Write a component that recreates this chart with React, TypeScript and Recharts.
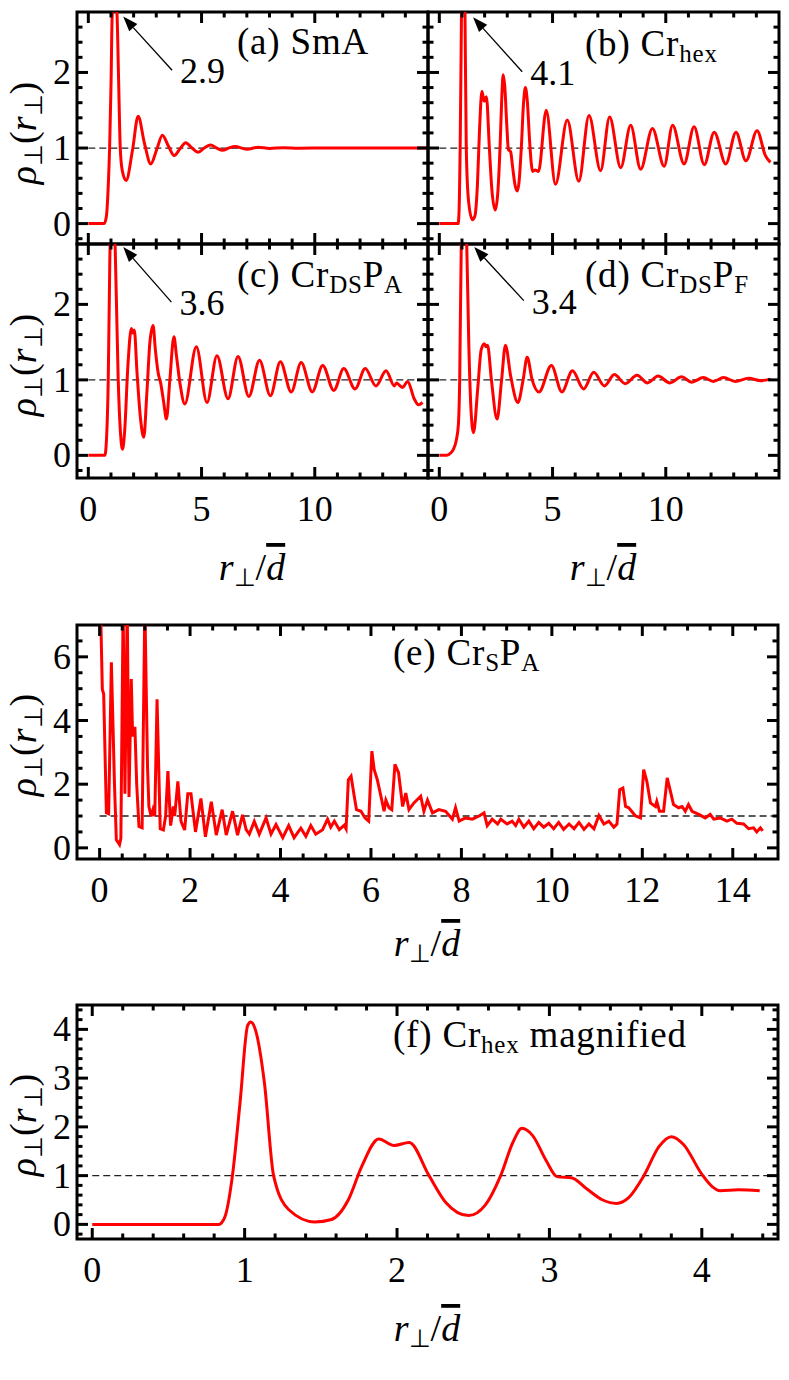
import React from 'react';
import { ComposedChart, Line, Scatter, XAxis, YAxis, ReferenceLine, ReferenceArea } from 'recharts';

type Pt = [number, number];

// rho_perp(r_perp), [r/d, rho]
const smaPoints: Pt[] = [
  [0, 0], [0.35, 0], [0.7, 0], [0.8, 0.1], [0.88, 0.5], [0.94, 1.0], [1.0, 1.8], [1.06, 2.8],
  [1.16, 2.9], [1.26, 2.8], [1.33, 2.0], [1.41, 1.0], [1.5, 0.7], [1.67, 0.57], [1.95, 0.97],
  [2.2, 1.42], [2.48, 1.06], [2.76, 0.79], [3.02, 0.98], [3.27, 1.17], [3.53, 1.03], [3.79, 0.9],
  [4.05, 0.99], [4.3, 1.07], [4.58, 1.0], [4.85, 0.945], [5.12, 1.0], [5.4, 1.04], [5.67, 1.0],
  [5.93, 0.97], [6.2, 1.0], [6.47, 1.02], [7.0, 0.985], [7.5, 1.01], [8.0, 0.995], [8.6, 1.004],
  [9.3, 0.998], [10.5, 1.0], [12, 1.0], [13.5, 1.0], [15, 1.0],
];

const crHexPoints: Pt[] = [
  [0, 0], [0.5, 0], [0.83, 0], [0.87, 0.15], [0.92, 1.0], [0.97, 2.5], [1.02, 4.08], [1.04, 4.15],
  [1.07, 4.0], [1.13, 2.9], [1.19, 1.0], [1.29, 0.3], [1.46, 0.05], [1.57, 0.1], [1.68, 0.5],
  [1.77, 1.2], [1.88, 1.75], [1.98, 1.62], [2.08, 1.68], [2.21, 1.0], [2.32, 0.45], [2.47, 0.18],
  [2.58, 0.4], [2.68, 1.0], [2.76, 1.68], [2.82, 1.97], [2.89, 1.82], [2.98, 1.3], [3.05, 0.98],
  [3.15, 0.95], [3.24, 0.74], [3.35, 0.5], [3.44, 0.43], [3.52, 0.55], [3.62, 1.0], [3.72, 1.6],
  [3.8, 1.8], [3.88, 1.64], [4.0, 1.03], [4.07, 0.77], [4.12, 0.69], [4.24, 0.71], [4.38, 0.69],
  [4.72, 1.5], [5.13, 0.52], [5.65, 1.37], [6.16, 0.56], [6.61, 1.43], [7.12, 0.7], [7.52, 1.41],
  [8.01, 0.74], [8.45, 1.3], [8.89, 0.72], [9.41, 1.26], [9.93, 0.76], [10.3, 1.3], [10.81, 0.79],
  [11.25, 1.28], [11.7, 0.78], [12.14, 1.21], [12.65, 0.79], [13.1, 1.21], [13.54, 0.83],
  [14.03, 1.23], [14.4, 0.9], [14.62, 0.81],
];

const crDsPaPoints: Pt[] = [
  [0, 0], [0.4, 0], [0.73, 0], [0.8, 0.2], [0.88, 1.0], [0.95, 2.6], [1.07, 3.6], [1.19, 2.7],
  [1.32, 1.0], [1.42, 0.3], [1.51, 0.08], [1.6, 0.3], [1.75, 1.2], [1.9, 1.68], [1.96, 1.62],
  [2.03, 1.66], [2.15, 1.1], [2.3, 0.5], [2.45, 0.24], [2.58, 0.8], [2.72, 1.5], [2.86, 1.72],
  [2.96, 1.4], [3.08, 1.1], [3.2, 0.95], [3.33, 0.7], [3.45, 0.48], [3.6, 1.0], [3.78, 1.57],
  [3.9, 1.3], [4.05, 0.95], [4.26, 0.68], [4.77, 1.44], [5.24, 0.7], [5.68, 1.32], [6.17, 0.75],
  [6.61, 1.31], [7.09, 0.78], [7.56, 1.26], [8.04, 0.79], [8.48, 1.24], [8.96, 0.84], [9.4, 1.23],
  [9.89, 0.84], [10.35, 1.19], [10.84, 0.86], [11.28, 1.15], [11.78, 0.88], [12.23, 1.15],
  [12.7, 0.92], [13.15, 1.12], [13.51, 0.92], [13.62, 0.96], [13.73, 0.93], [13.88, 0.9],
  [14.1, 0.98], [14.39, 0.75], [14.58, 0.67], [14.76, 0.7],
];

const crDsPfPoints: Pt[] = [
  [0, 0], [0.33, 0], [0.5, 0.03], [0.62, 0.08], [0.75, 0.2], [0.84, 0.4], [0.9, 1.0], [0.97, 2.8],
  [1.09, 3.4], [1.21, 2.8], [1.3, 1.5], [1.4, 0.6], [1.51, 0.3], [1.7, 0.9], [1.85, 1.4],
  [1.99, 1.48], [2.06, 1.44], [2.13, 1.46], [2.3, 1.0], [2.55, 0.48], [2.75, 1.0], [2.92, 1.46],
  [3.15, 1.05], [3.47, 0.7], [3.7, 1.0], [3.88, 1.3], [4.1, 1.0], [4.4, 0.84], [4.95, 1.19],
  [5.41, 0.84], [5.88, 1.12], [6.37, 0.88], [6.82, 1.1], [7.29, 0.92], [7.73, 1.07], [8.21, 0.95],
  [8.73, 1.06], [9.19, 0.96], [9.66, 1.05], [10.18, 0.96], [10.7, 1.04], [11.14, 0.97],
  [11.66, 1.03], [12.1, 0.98], [12.55, 1.03], [13.07, 0.98], [13.66, 1.02], [14.2, 0.99],
  [14.62, 1.01],
];

const crSPaPoints: Pt[] = [
  [0.02, 7.6], [0.06, 4.98], [0.09, 4.83], [0.15, 1.1], [0.2, 1.07], [0.26, 5.83], [0.33, 1.93],
  [0.37, 0.25], [0.44, 0.1], [0.47, 0.3], [0.52, 7.6], [0.56, 1.7], [0.61, 7.6], [0.65, 1.6],
  [0.7, 5.3], [0.73, 3.5], [0.78, 3.8], [0.82, 2.0], [0.87, 0.67], [0.94, 0.63], [1.0, 7.6],
  [1.06, 2.5], [1.09, 1.3], [1.14, 0.99], [1.18, 1.2], [1.22, 1.0], [1.27, 4.67], [1.34, 0.6],
  [1.41, 0.56], [1.46, 1.0], [1.51, 2.41], [1.57, 0.7], [1.63, 1.3], [1.66, 1.0], [1.73, 2.09],
  [1.8, 0.83], [1.88, 0.56], [1.95, 1.7], [2.02, 1.7], [2.12, 0.5], [2.24, 1.55], [2.34, 0.35],
  [2.47, 1.45], [2.58, 0.4], [2.71, 1.2], [2.8, 0.4], [2.94, 1.15], [3.05, 0.4], [3.16, 1.04],
  [3.24, 0.57], [3.31, 0.43], [3.42, 0.83], [3.53, 0.43], [3.68, 0.94], [3.79, 0.43], [3.9, 0.73],
  [4.05, 0.32], [4.18, 0.7], [4.3, 0.32], [4.45, 0.62], [4.56, 0.36], [4.67, 0.7], [4.78, 0.43],
  [4.93, 0.57], [5.04, 0.9], [5.11, 0.65], [5.19, 0.84], [5.3, 0.57], [5.41, 0.71], [5.45, 0.6],
  [5.5, 2.14], [5.56, 2.25], [5.63, 1.62], [5.68, 1.2], [5.78, 1.15], [5.87, 0.94], [5.95, 0.84],
  [6.02, 3.04], [6.07, 2.46], [6.14, 2.14], [6.22, 1.62], [6.29, 1.15], [6.33, 1.5], [6.4, 1.26],
  [6.46, 1.2], [6.53, 2.62], [6.61, 2.36], [6.7, 1.3], [6.77, 1.72], [6.84, 1.2], [6.95, 1.41],
  [7.1, 1.62], [7.17, 1.15], [7.25, 1.5], [7.36, 1.1], [7.5, 1.2], [7.65, 1.15], [7.8, 0.9],
  [7.87, 1.26], [7.95, 0.84], [8.09, 0.94], [8.24, 0.9], [8.39, 1.0], [8.5, 1.1], [8.57, 0.7],
  [8.68, 0.9], [8.8, 0.75], [8.87, 0.9], [9.01, 0.75], [9.12, 0.84], [9.2, 0.7], [9.27, 0.9],
  [9.38, 0.65], [9.49, 0.84], [9.6, 0.6], [9.71, 0.8], [9.82, 0.65], [9.93, 0.77], [10.04, 0.6],
  [10.15, 0.8], [10.26, 0.58], [10.38, 0.75], [10.49, 0.6], [10.6, 0.8], [10.71, 0.58],
  [10.82, 0.75], [10.93, 0.6], [11.04, 1.02], [11.15, 0.75], [11.26, 0.84], [11.37, 0.65],
  [11.44, 0.75], [11.5, 1.83], [11.57, 1.88], [11.63, 1.3], [11.7, 1.26], [11.85, 1.0],
  [11.96, 0.94], [12.03, 2.46], [12.1, 2.09], [12.18, 1.41], [12.29, 1.3], [12.32, 1.46],
  [12.38, 1.15], [12.47, 1.15], [12.55, 2.2], [12.62, 1.78], [12.69, 1.36], [12.8, 1.26],
  [12.88, 1.3], [12.95, 1.15], [13.02, 1.36], [13.1, 1.15], [13.25, 1.05], [13.39, 0.94],
  [13.5, 1.05], [13.58, 0.9], [13.72, 0.94], [13.87, 0.84], [13.98, 0.9], [14.09, 0.77],
  [14.24, 0.75], [14.35, 0.6], [14.46, 0.63], [14.53, 0.5], [14.61, 0.63], [14.66, 0.53],
];

// panel (f) shows the start of the Cr_hex curve
const crHexMagnified = crHexPoints.filter(([r]) => r <= 4.4);

// ticks
const gridXMajor = [0, 5, 10];
const gridXMinor = [1, 2, 3, 4, 6, 7, 8, 9, 11, 12, 13, 14];
const gridYMajor = [0, 1, 2];
const gridYMinor = [-0.2, 0.2, 0.4, 0.6, 0.8, 1.2, 1.4, 1.6, 1.8, 2.2, 2.4, 2.6];
const eXMajor = [0, 2, 4, 6, 8, 10, 12, 14];
const eXMinor = [0.5, 1, 1.5, 2.5, 3, 3.5, 4.5, 5, 5.5, 6.5, 7, 7.5, 8.5, 9, 9.5, 10.5, 11, 11.5, 12.5, 13, 13.5, 14.5];
const eYMajor = [0, 2, 4, 6];
const eYMinor = [0.5, 1, 1.5, 2.5, 3, 3.5, 4.5, 5, 5.5, 6.5];
const fXMajor = [0, 1, 2, 3, 4];
const fXMinor = [0.2, 0.4, 0.6, 0.8, 1.2, 1.4, 1.6, 1.8, 2.2, 2.4, 2.6, 2.8, 3.2, 3.4, 3.6, 3.8, 4.2, 4.4];
const fYMajor = [0, 1, 2, 3, 4];
const fYMinor = [-0.2, 0.2, 0.4, 0.6, 0.8, 1.2, 1.4, 1.6, 1.8, 2.2, 2.4, 2.6, 2.8, 3.2, 3.4, 3.6, 3.8, 4.2, 4.4];

const FONT = "'Liberation Serif', 'Times New Roman', serif";
const FS = 36;
const TITLE_FS = 37;
const RED = '#ff0000';
const MAJOR_LEN = 11;
const MINOR_LEN = 5.5;
const PAD_L = 77;
const PAD_T = 8;
const PAD_R = 8;
const PAD_B = 60;

type Side = 'bottom' | 'top' | 'left' | 'right';

// tick labels only; the tick marks are drawn by the Scatter series below
const makeLabel = (side: 'bottom' | 'left', major: number[], show: boolean) => (p: any) => {
  const v = p.payload.value;
  const big = major.some((m) => Math.abs(m - v) < 1e-6);
  if (!show || !big) return <g />;
  return side === 'bottom' ? (
    <text x={p.x} y={p.y + 43} textAnchor="middle" fontFamily={FONT} fontSize={FS} fill="#000">{v}</text>
  ) : (
    <text x={p.x - 6} y={p.y + 12} textAnchor="end" fontFamily={FONT} fontSize={FS} fill="#000">{v}</text>
  );
};

const tickShape = (side: Side) => (p: any) => {
  const { cx, cy, payload } = p;
  const len = payload.major ? MAJOR_LEN : MINOR_LEN;
  let x2 = cx;
  let y2 = cy;
  if (side === 'bottom') y2 = cy - len;
  if (side === 'top') y2 = cy + len;
  if (side === 'left') x2 = cx + len;
  if (side === 'right') x2 = cx - len;
  return <line x1={cx} y1={cy} x2={x2} y2={y2} stroke="#000" strokeWidth={3} />;
};

const arrowShape = (label: string) => (p: any) => {
  const { x1, y1, x2, y2 } = p;
  const ang = Math.atan2(y2 - y1, x2 - x1);
  const L = 15;
  const W = 5.5;
  const bx = x2 - L * Math.cos(ang);
  const by = y2 - L * Math.sin(ang);
  const nx = -Math.sin(ang) * W;
  const ny = Math.cos(ang) * W;
  return (
    <g>
      <line x1={x1} y1={y1} x2={bx} y2={by} stroke="#000" strokeWidth={1.3} />
      <polygon points={`${x2},${y2} ${bx + nx},${by + ny} ${bx - nx},${by - ny}`} fill="#000" />
      <text x={x1 + 8} y={y1 + 13} fontFamily={FONT} fontSize={FS} fill="#000">{label}</text>
    </g>
  );
};

interface PanelProps {
  points: Pt[];
  box: [number, number, number, number];
  xDomain: [number, number];
  yDomain: [number, number];
  xMajor: number[];
  xMinor: number[];
  yMajor: number[];
  yMinor: number[];
  xLabels: boolean;
  yLabels: boolean;
  curve: 'monotone' | 'linear';
  peak?: { text: string; tail: Pt; tip: Pt };
}

const Panel: React.FC<PanelProps> = ({ points, box, xDomain, yDomain, xMajor, xMinor, yMajor, yMinor, xLabels, yLabels, curve, peak }) => {
  const [left, top, w, h] = box;
  const rows = points.map(([r, rho]) => ({ r, rho }));
  const xTicks = [...xMajor, ...xMinor].sort((a, b) => a - b);
  const yTicks = [...yMajor, ...yMinor].sort((a, b) => a - b);
  const xMark = (rho: number) => xTicks.map((r) => ({ r, rho, major: xMajor.includes(r) }));
  const yMark = (r: number) => yTicks.map((rho) => ({ r, rho, major: yMajor.includes(rho) }));
  const common = { tickLine: false, tickSize: 0, tickMargin: 0, interval: 0 as const, axisLine: false, allowDataOverflow: true };

  return (
    <div style={{ position: 'absolute', left: left - PAD_L, top: top - PAD_T }}>
      <ComposedChart width={w + PAD_L + PAD_R} height={h + PAD_T + PAD_B} data={rows} margin={{ top: PAD_T, right: PAD_R, bottom: 0, left: 0 }}>
        <XAxis xAxisId="b" orientation="bottom" type="number" dataKey="r" domain={xDomain} ticks={xTicks} tick={makeLabel('bottom', xMajor, xLabels)} height={PAD_B} {...common} />
        <YAxis yAxisId="l" orientation="left" type="number" domain={yDomain} ticks={yTicks} tick={makeLabel('left', yMajor, yLabels)} width={PAD_L} {...common} />
        <ReferenceLine xAxisId="b" yAxisId="l" segment={[{ x: 0, y: 1 }, { x: xDomain[1], y: 1 }]} stroke="#222" strokeWidth={1.3} strokeDasharray="7 4" />
        <Line xAxisId="b" yAxisId="l" dataKey="rho" type={curve} stroke={RED} strokeWidth={3} dot={false} isAnimationActive={false} />
        <Scatter xAxisId="b" yAxisId="l" data={xMark(yDomain[0])} dataKey="rho" shape={tickShape('bottom')} isAnimationActive={false} />
        <Scatter xAxisId="b" yAxisId="l" data={xMark(yDomain[1])} dataKey="rho" shape={tickShape('top')} isAnimationActive={false} />
        <Scatter xAxisId="b" yAxisId="l" data={yMark(xDomain[0])} dataKey="rho" shape={tickShape('left')} isAnimationActive={false} />
        <Scatter xAxisId="b" yAxisId="l" data={yMark(xDomain[1])} dataKey="rho" shape={tickShape('right')} isAnimationActive={false} />
        <ReferenceArea xAxisId="b" yAxisId="l" x1={xDomain[0]} x2={xDomain[1]} y1={yDomain[0]} y2={yDomain[1]} fill="none" fillOpacity={0} stroke="#000" strokeWidth={3} />
        {peak && (
          <ReferenceLine
            xAxisId="b"
            yAxisId="l"
            segment={[{ x: peak.tail[0], y: peak.tail[1] }, { x: peak.tip[0], y: peak.tip[1] }]}
            shape={arrowShape(peak.text)}
          />
        )}
      </ComposedChart>
    </div>
  );
};

const SUB = 25;

const Sub: React.FC<{ children: React.ReactNode }> = ({ children }) => (
  <tspan fontSize={SUB} dy={6}>{children}</tspan>
);

const perpStyle: React.CSSProperties = { fontSize: 25, position: 'relative', top: 6 };

// vertical axis title, rotated as an HTML block
const YLabel: React.FC<{ cy: number }> = ({ cy }) => (
  <div
    style={{
      position: 'absolute', left: 23 - 90, top: cy - 24, width: 180, height: 48, lineHeight: '48px',
      textAlign: 'center', transform: 'rotate(-90deg)', fontFamily: FONT, fontSize: 38, whiteSpace: 'nowrap',
    }}
  >
    <i>ρ</i><span style={perpStyle}>⊥</span>(<i>r</i><span style={perpStyle}>⊥</span>)
  </div>
);

const XLabel: React.FC<{ cx: number; y: number }> = ({ cx, y }) => (
  <text x={cx} y={y} textAnchor="middle" fontFamily={FONT} fontSize={38}>
    <tspan fontStyle="italic">r</tspan>
    <tspan fontSize={25} dy={6}>⊥</tspan>
    <tspan dy={-6}>/</tspan>
    <tspan fontStyle="italic" style={{ textDecoration: 'overline' }}>d</tspan>
  </text>
);

const Title: React.FC<{ x: number; y: number; children: React.ReactNode }> = ({ x, y, children }) => (
  <text x={x} y={y} fontFamily={FONT} fontSize={TITLE_FS} letterSpacing={0.8} style={{ whiteSpace: 'pre' }}>{children}</text>
);

const gridX: [number, number] = [-0.5, 15];

export default function App() {
  return (
    <div style={{ position: 'absolute', left: 0, top: 0, width: 789, height: 1380, background: '#fff' }}>
      <Panel points={smaPoints} box={[77, 12, 351, 232]} xDomain={gridX} yDomain={[-0.27, 2.8]}
        xMajor={gridXMajor} xMinor={gridXMinor} yMajor={gridYMajor} yMinor={gridYMinor}
        xLabels={false} yLabels curve="monotone" peak={{ text: '2.9', tail: [3.7, 2.03], tip: [1.54, 2.74] }} />
      <Panel points={crHexPoints} box={[428, 12, 351, 232]} xDomain={gridX} yDomain={[-0.27, 2.8]}
        xMajor={gridXMajor} xMinor={gridXMinor} yMajor={gridYMajor} yMinor={gridYMinor}
        xLabels={false} yLabels={false} curve="monotone" peak={{ text: '4.1', tail: [3.66, 2.01], tip: [1.49, 2.73] }} />
      <Panel points={crDsPaPoints} box={[77, 244, 351, 234]} xDomain={gridX} yDomain={[-0.3, 2.8]}
        xMajor={gridXMajor} xMinor={gridXMinor} yMajor={gridYMajor} yMinor={gridYMinor}
        xLabels yLabels curve="monotone" peak={{ text: '3.6', tail: [3.67, 2.03], tip: [1.54, 2.76] }} />
      <Panel points={crDsPfPoints} box={[428, 244, 351, 234]} xDomain={gridX} yDomain={[-0.3, 2.8]}
        xMajor={gridXMajor} xMinor={gridXMinor} yMajor={gridYMajor} yMinor={gridYMinor}
        xLabels yLabels={false} curve="monotone" peak={{ text: '3.4', tail: [3.73, 2.05], tip: [1.54, 2.76] }} />
      <Panel points={crSPaPoints} box={[77, 625, 701, 234]} xDomain={gridX} yDomain={[-0.35, 7]}
        xMajor={eXMajor} xMinor={eXMinor} yMajor={eYMajor} yMinor={eYMinor}
        xLabels yLabels curve="linear" />
      <Panel points={crHexMagnified} box={[77, 1005, 701, 234]} xDomain={[-0.1, 4.5]} yDomain={[-0.3, 4.5]}
        xMajor={fXMajor} xMinor={fXMinor} yMajor={fYMajor} yMinor={fYMinor}
        xLabels yLabels curve="monotone" />

      <YLabel cy={133} />
      <YLabel cy={365} />
      <YLabel cy={745} />
      <YLabel cy={1125} />

      <svg width={789} height={1380} style={{ position: 'absolute', left: 0, top: 0, pointerEvents: 'none' }}>
        <Title x={237} y={54}>(a) SmA</Title>
        <Title x={585} y={56}>(b) Cr<Sub>hex</Sub></Title>
        <Title x={237} y={287}>(c) Cr<Sub>DS</Sub><tspan dy={-6}>P</tspan><Sub>A</Sub></Title>
        <Title x={585} y={287}>(d) Cr<Sub>DS</Sub><tspan dy={-6}>P</tspan><Sub>F</Sub></Title>
        <Title x={393} y={665}>(e) Cr<Sub>S</Sub><tspan dy={-6}>P</tspan><Sub>A</Sub></Title>
        <Title x={393} y={1047}>(f) Cr<Sub>hex</Sub><tspan dy={-6}>{' magnified'}</tspan></Title>

        <XLabel cx={252} y={580} />
        <XLabel cx={603} y={580} />
        <XLabel cx={427} y={956} />
        <XLabel cx={427} y={1341} />
      </svg>
    </div>
  );
}
